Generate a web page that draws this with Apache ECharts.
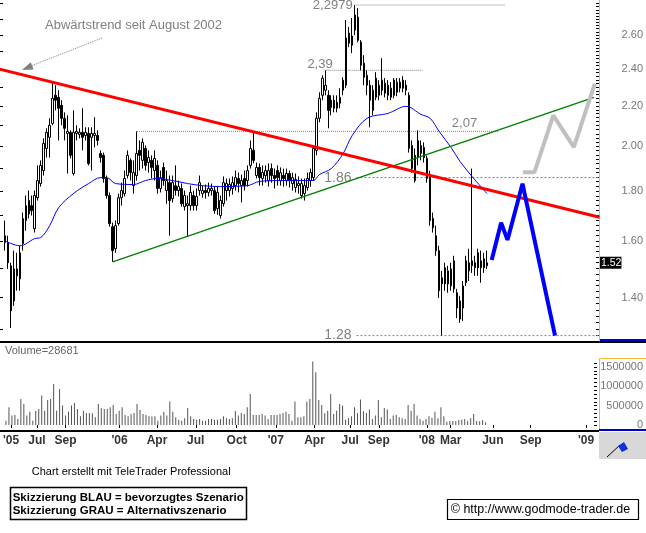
<!DOCTYPE html>
<html><head><meta charset="utf-8">
<script src="https://cdn.jsdelivr.net/npm/echarts@6/dist/echarts.min.js"></script>
<style>html,body{margin:0;padding:0;background:#fff}#c{width:646px;height:533px}</style>
</head><body><div id="c"></div>
<script>
// ---------- data (weekly candles, first week 2005-04-10) ----------
const firstWeek = '2005-04-10';
const open = [1.620,1.594,1.509,1.389,1.498,1.463,1.590,1.679,1.760,1.739,
1.647,1.772,1.832,1.889,1.990,2.043,2.111,2.256,2.245,2.203,
2.137,2.062,2.067,1.876,2.062,2.057,2.067,2.052,2.062,2.043,
2.052,2.052,1.967,1.958,1.854,1.781,1.655,1.571,1.667,1.772,
1.789,1.867,1.935,1.823,1.867,1.981,1.935,1.990,1.925,1.935,
1.889,1.912,1.811,1.903,1.802,1.836,1.768,1.823,1.802,1.811,
1.735,1.739,1.739,1.781,1.739,1.802,1.789,1.802,1.794,1.802,
1.802,1.727,1.699,1.747,1.802,1.802,1.811,1.823,1.854,1.823,
1.854,1.845,1.912,1.981,1.867,1.903,1.854,1.867,1.845,1.898,
1.867,1.889,1.845,1.867,1.845,1.876,1.832,1.815,1.823,1.781,
1.789,1.815,1.845,1.858,1.981,2.137,2.256,2.283,2.256,2.230,
2.188,2.188,2.214,2.283,2.310,2.551,2.594,2.631,2.713,2.557,
2.433,2.310,2.310,2.283,2.245,2.256,2.283,2.267,2.256,2.294,
2.338,2.272,2.294,2.338,2.310,2.256,2.004,1.958,1.948,1.967,
1.995,1.944,1.867,1.687,1.620,1.564,1.467,1.446,1.446,1.498,
1.429,1.416,1.389,1.366,1.450,1.491,1.509,1.502,1.556,1.502,
1.502,1.509];
const close = [1.594,1.520,1.357,1.498,1.474,1.556,1.687,1.739,1.706,1.719,
1.781,1.845,1.912,2.014,2.067,2.102,2.240,2.230,2.188,2.137,
2.087,2.072,1.958,2.067,2.072,2.067,2.043,2.067,1.921,2.062,
2.062,2.028,1.948,1.854,1.781,1.667,1.564,1.659,1.772,1.802,
1.854,1.958,1.880,1.880,1.967,1.958,2.019,1.912,1.948,1.903,
1.944,1.811,1.858,1.845,1.845,1.760,1.836,1.802,1.819,1.747,
1.781,1.747,1.794,1.739,1.777,1.836,1.802,1.794,1.811,1.811,
1.719,1.794,1.760,1.836,1.832,1.828,1.836,1.858,1.832,1.845,
1.823,1.889,1.990,1.935,1.903,1.858,1.880,1.889,1.889,1.867,
1.854,1.858,1.880,1.854,1.876,1.845,1.858,1.850,1.832,1.832,
1.823,1.854,1.880,1.990,2.137,2.240,2.349,2.310,2.177,2.193,
2.230,2.219,2.245,2.338,2.582,2.612,2.539,2.726,2.569,2.422,
2.354,2.365,2.230,2.177,2.349,2.310,2.338,2.321,2.310,2.245,
2.256,2.327,2.327,2.294,2.283,1.990,1.898,1.845,2.028,2.004,
1.948,1.854,1.679,1.651,1.564,1.423,1.446,1.502,1.491,1.439,
1.527,1.366,1.331,1.439,1.527,1.520,1.527,1.520,1.502,1.527,
1.534,1.520];
const high = [1.679,1.620,1.520,1.564,1.556,1.582,1.711,1.781,1.802,1.781,
1.802,1.912,1.935,2.038,2.087,2.137,2.332,2.310,2.283,2.230,
2.167,2.152,2.077,2.177,2.102,2.087,2.188,2.092,2.092,2.092,
2.142,2.077,1.981,1.971,1.867,1.794,1.671,1.679,1.789,1.836,
1.889,1.981,1.944,1.935,2.072,2.028,2.038,2.004,1.981,1.958,
1.981,1.935,1.889,1.925,1.889,1.867,1.867,1.912,1.845,1.832,
1.802,1.781,1.823,1.802,1.811,1.867,1.823,1.828,1.836,1.832,
1.819,1.819,1.781,1.863,1.854,1.854,1.863,1.889,1.880,1.871,
1.889,1.912,2.028,2.067,1.925,1.921,1.912,1.912,1.921,1.921,
1.898,1.912,1.903,1.898,1.898,1.889,1.880,1.876,1.863,1.854,
1.854,1.880,1.898,2.004,2.167,2.272,2.365,2.393,2.283,2.256,
2.256,2.256,2.294,2.354,2.694,2.650,2.707,2.791,2.771,2.569,
2.480,2.393,2.338,2.310,2.382,2.338,2.462,2.349,2.338,2.327,
2.349,2.349,2.349,2.360,2.338,2.272,2.028,1.990,2.077,2.028,
2.019,1.958,1.889,1.711,1.659,1.582,1.491,1.520,1.509,1.520,
1.545,1.429,1.406,1.456,1.545,1.571,1.898,1.545,1.571,1.564,
1.556,1.564];
const low = [1.564,1.498,1.303,1.373,1.423,1.423,1.564,1.639,1.687,1.699,
1.632,1.760,1.819,1.867,1.948,1.948,2.102,2.177,2.028,2.102,
2.028,1.876,1.944,1.867,2.028,2.038,1.981,2.028,1.912,1.889,
1.995,2.004,1.925,1.836,1.768,1.655,1.523,1.556,1.659,1.739,
1.777,1.854,1.845,1.789,1.845,1.889,1.898,1.889,1.880,1.854,
1.845,1.789,1.794,1.823,1.747,1.620,1.752,1.781,1.777,1.735,
1.719,1.616,1.719,1.719,1.719,1.781,1.772,1.768,1.777,1.781,
1.706,1.702,1.687,1.735,1.760,1.777,1.785,1.802,1.794,1.752,
1.802,1.819,1.898,1.921,1.854,1.823,1.823,1.836,1.819,1.836,
1.811,1.823,1.823,1.819,1.823,1.815,1.802,1.794,1.789,1.768,
1.760,1.802,1.819,1.845,1.958,2.117,2.230,2.256,2.087,2.152,
2.167,2.167,2.188,2.256,2.294,2.527,2.492,2.600,2.557,2.393,
2.310,2.256,2.092,2.152,2.230,2.230,2.256,2.245,2.230,2.230,
2.240,2.251,2.272,2.272,2.256,1.971,1.880,1.836,1.912,1.935,
1.925,1.836,1.659,1.632,1.545,1.399,1.280,1.423,1.416,1.423,
1.416,1.334,1.319,1.325,1.439,1.456,1.484,1.474,1.474,1.450,
1.484,1.498];
const volume = [112,458,242,259,155,674,544,242,345,112,
371,415,760,371,648,674,1062,371,933,501,
242,345,501,570,415,225,371,311,311,302,
199,544,432,415,415,458,518,285,371,458,
259,225,285,311,544,389,285,259,225,216,
225,112,242,345,242,605,345,199,138,112,
173,440,225,155,138,155,112,112,155,155,
138,138,155,225,173,155,173,363,242,311,
285,458,803,259,259,259,285,242,155,259,
259,259,285,311,345,285,112,605,199,199,
225,605,674,1641,1364,648,518,300,
371,803,285,371,544,501,138,181,225,458,
311,656,354,311,397,155,242,648,199,440,
397,155,242,259,199,173,155,518,371,544,
242,155,112,155,225,190,345,173,458,225,
86,104,104,104,130,138,155,112,173,285,
104,95,130,69].map(v => v * 1000);
// moving average (week index, price)
const maWeek  = [0,5,10,12,15,18,23,28,32,34,37,43,47,51,56,61,66,72,81,85,92,103,105,109,113,116,121,128,134,139,142,145,149,152,156,161];
const maValue = [1.601,1.582,1.609,1.613,1.659,1.731,1.790,1.832,1.858,1.858,1.832,1.828,1.845,1.854,1.845,1.832,1.823,1.819,1.823,1.841,1.845,1.845,1.871,1.898,1.967,2.052,2.137,2.162,2.198,2.156,2.137,2.072,1.995,1.930,1.863,1.789];
// drawn trend lines and scenario sketches (date, price)
const trendRed   = [['2005-03-29', 2.399], ['2009-01-29', 1.692]];
const trendGreen = [['2005-12-18', 1.523], ['2009-01-16', 2.245]];
const sketchBlue = [['2008-05-22', 1.530], ['2008-06-13', 1.670], ['2008-06-28', 1.604], ['2008-08-02', 1.831], ['2008-10-17', 1.280]];
const sketchGray = [['2008-08-03', 1.882], ['2008-08-30', 1.882], ['2008-10-13', 2.152], ['2008-11-30', 1.996], ['2009-01-18', 2.319]];
const level279 = [['2007-07-09', 2.791], ['2008-06-23', 2.791]];
const level239 = [['2007-04-30', 2.393], ['2007-12-13', 2.393]];
const level207 = [['2006-02-13', 2.072], ['2008-06-06', 2.072]];
const level186 = [['2007-07-11', 1.858], ['2009-01-31', 1.858]];
const level128 = [['2007-07-11', 1.280], ['2009-01-31', 1.280]];
// axis labels
const tickDates  = ['2005-04-22','2005-06-22','2005-08-28','2006-01-02','2006-03-31','2006-06-30','2006-10-04','2007-01-04','2007-04-05','2007-06-28','2007-09-03','2007-12-25','2008-02-19','2008-05-28','2008-08-25','2009-01-02'];
const tickLabels = ["'05",'Jul','Sep',"'06",'Apr','Jul','Oct',"'07",'Apr','Jul','Sep',"'08",'Mar','Jun','Sep',"'09"];
const priceLabels = [1.40,1.60,1.80,2.00,2.20,2.40,2.60];
const volumeLabels = [0,500000,1000000,1500000];

// ---------- helpers ----------
const DAY = 86400000;
const D = s => Date.parse(s + 'T00:00:00Z');
const t0 = D(firstWeek);
const weekTime = i => t0 + i * 7 * DAY;
const L = Math.log;
const xMin = t0 - 11.2 * DAY, xMax = t0 + 1388.8 * DAY;
const yMin = L(1.2638), yMax = L(2.8244);
const FONT = 'Liberation Sans';

const candles = open.map((o, i) => [weekTime(i), L(o), L(close[i]), L(low[i]), L(high[i])]);
const vols = volume.map((v, i) => [weekTime(i), v]);
const ma = maWeek.map((w, i) => [weekTime(w), L(maValue[i])]);
const pts = arr => arr.map(p => [D(p[0]), L(p[1])]);
const labelMap = {};
tickDates.forEach((d, i) => { labelMap[D(d)] = tickLabels[i]; });

const rightTicks = [], leftTicks = [], volTicks = [];
for (let k = 64; k <= 140; k++) rightTicks.push(L(k / 50));
for (let k = 13; k <= 28; k++) leftTicks.push(L(k / 10));
for (let k = 0; k <= 16; k++) volTicks.push(k * 100000);

function level(arr, text, idx, dist, offset, dash, size) {
  const data = pts(arr).map((p, i) => i === idx ? {
    value: p,
    label: { show: true, position: 'left', distance: dist, offset: offset, formatter: text,
             color: '#808080', fontSize: size, fontFamily: FONT }
  } : p);
  return { type: 'line', xAxisIndex: 0, yAxisIndex: 0, data, symbol: 'circle', symbolSize: 0,
           showSymbol: true, silent: true, z: 1,
           lineStyle: { color: '#808080', width: 1, type: dash } };
}
function path(arr, color, width, z) {
  return { type: 'line', xAxisIndex: 0, yAxisIndex: 0, data: pts(arr), symbol: 'none', silent: true, z,
           lineStyle: { color, width } };
}

const lastClose = close[close.length - 1];

const option = {
  animation: false,
  backgroundColor: '#fff',
  grid: [
    { left: 0, top: 0, width: 599, height: 341 },
    { left: 0, top: 343, width: 599, height: 87 }
  ],
  xAxis: [
    { type: 'value', gridIndex: 0, min: xMin, max: xMax, show: false, splitLine: { show: false } },
    { type: 'value', gridIndex: 1, min: xMin, max: xMax, splitLine: { show: false },
      axisLine: { show: false },
      axisTick: { show: true, customValues: tickDates.map(D), length: 3, lineStyle: { color: '#000' } },
      axisLabel: { customValues: tickDates.map(D), formatter: v => labelMap[v] || '', margin: 5,
                   fontFamily: FONT, fontWeight: 'bold', fontSize: 12, color: '#333' } }
  ],
  yAxis: [
    { type: 'value', gridIndex: 0, position: 'right', min: yMin, max: yMax, splitLine: { show: false },
      axisLine: { show: true, lineStyle: { color: '#f5b935', width: 1 } },
      axisTick: { show: true, inside: true, length: 3, customValues: rightTicks, lineStyle: { color: '#000' } },
      axisLabel: { customValues: priceLabels.map(L), formatter: v => Math.exp(v).toFixed(2),
                   align: 'right', margin: 44, fontFamily: FONT, fontSize: 11, color: '#777' } },
    { type: 'value', gridIndex: 0, position: 'left', min: yMin, max: yMax, splitLine: { show: false },
      axisLine: { show: false },
      axisTick: { show: true, inside: true, length: 3, customValues: leftTicks, lineStyle: { color: '#000' } },
      axisLabel: { show: false } },
    { type: 'value', gridIndex: 0, position: 'right', min: yMin, max: yMax, splitLine: { show: false },
      axisLine: { show: false }, axisTick: { show: false },
      axisLabel: { customValues: [L(lastClose)], formatter: v => '{b|' + Math.exp(v).toFixed(2) + '}',
                   margin: 1, align: 'left',
                   rich: { b: { backgroundColor: '#000', color: '#fff', fontSize: 10.5, fontFamily: FONT, padding: [1, 0, 0, 1] } } } },
    { type: 'value', gridIndex: 1, position: 'right', min: -130000, max: 2120000, splitLine: { show: false },
      axisLine: { show: false },
      axisTick: { show: true, inside: true, length: 3, customValues: volTicks, lineStyle: { color: '#000' } },
      axisLabel: { customValues: volumeLabels, formatter: v => String(v), align: 'right', margin: 46,
                   fontFamily: FONT, fontSize: 11, color: '#777' } }
  ],
  series: [
    level(level279, '2,2979', 0, 3, [0, 0], [1, 1], 13),
    level(level239, '2,39', 0, 0, [7, -6], [1, 1], 13),
    level(level207, '2,07', 1, 21, [0, -8], [1, 1], 13),
    level(level186, '1.86', 0, 5, [0, 1], [2, 2], 14),
    level(level128, '1.28', 0, 5, [0, 0], [2, 2], 14),
    { type: 'candlestick', xAxisIndex: 0, yAxisIndex: 0, data: candles, barWidth: 2, z: 2, silent: true,
      itemStyle: { color: '#fff', color0: '#000', borderColor: '#000', borderColor0: '#000', borderWidth: 1 } },
    { type: 'line', xAxisIndex: 0, yAxisIndex: 0, data: ma, symbol: 'none', smooth: 0.35, silent: true, z: 3,
      lineStyle: { color: '#0000ff', width: 1 } },
    path(trendGreen, '#008000', 1.5, 3),
    path(trendRed, '#ff0000', 3, 4),
    path(sketchGray, '#c0c0c0', 4, 5),
    path(sketchBlue, '#0000ff', 4, 5),
    { type: 'bar', xAxisIndex: 1, yAxisIndex: 3, data: vols, barWidth: 1, silent: true,
      itemStyle: { color: '#555' } }
  ],
  graphic: [
    { type: 'text', x: 45, y: 25, style: { text: 'Abwärtstrend seit August 2002', font: '13px "Liberation Sans"', fill: '#808080', verticalAlign: 'middle' } },
    { type: 'line', shape: { x1: 102, y1: 38, x2: 31, y2: 66 }, style: { stroke: '#808080', lineWidth: 1, lineDash: [1, 1] } },
    { type: 'polygon', shape: { points: [[22, 70], [33.7, 69.6], [30.7, 62.2]] }, style: { fill: '#808080' } },
    { type: 'rect', shape: { x: 599, y: 339, width: 47, height: 2 }, style: { fill: '#0000cc' } },
    { type: 'rect', shape: { x: 0, y: 341, width: 646, height: 2 }, style: { fill: '#000' } },
    { type: 'text', x: 5, y: 351, style: { text: 'Volume=28681', font: '11px "Liberation Sans"', fill: '#666', verticalAlign: 'middle' } },
    { type: 'polyline', shape: { points: [[646, 358.5], [599.5, 358.5], [599.5, 430]] }, style: { stroke: '#f5b935', lineWidth: 1, fill: null } },
    { type: 'rect', shape: { x: 0, y: 430, width: 599, height: 2 }, style: { fill: '#000' } },
    { type: 'rect', shape: { x: 599, y: 429, width: 47, height: 2 }, style: { fill: '#0000cc' } },
    { type: 'rect', shape: { x: 599, y: 432, width: 47, height: 27 }, style: { fill: '#d8d8d8' } },
    { type: 'line', shape: { x1: 607, y1: 457, x2: 620, y2: 445 }, style: { stroke: '#000', lineWidth: 1 } },
    { type: 'polygon', shape: { points: [[618, 446], [624, 442], [628, 449], [622, 452]] }, style: { fill: '#1030e0' } },
    { type: 'text', x: 31.7, y: 472, style: { text: 'Chart erstellt mit TeleTrader Professional', font: '11px "Liberation Sans"', fill: '#000', verticalAlign: 'middle' } },
    { type: 'rect', shape: { x: 10.5, y: 487.5, width: 236, height: 32 }, style: { fill: null, stroke: '#000', lineWidth: 1.5 } },
    { type: 'text', x: 12.7, y: 498, style: { text: 'Skizzierung BLAU = bevorzugtes Szenario', font: 'bold 11.5px "Liberation Sans"', fill: '#000', verticalAlign: 'middle' } },
    { type: 'text', x: 12.7, y: 510.5, style: { text: 'Skizzierung GRAU = Alternativszenario', font: 'bold 11.5px "Liberation Sans"', fill: '#000', verticalAlign: 'middle' } },
    { type: 'rect', shape: { x: 447.5, y: 499.5, width: 191, height: 20 }, style: { fill: null, stroke: '#000', lineWidth: 1.2 } },
    { type: 'text', x: 450.7, y: 509.5, style: { text: '© http://www.godmode-trader.de', font: '12.5px "Liberation Sans"', fill: '#000', verticalAlign: 'middle' } }
  ]
};
const chart = echarts.init(document.getElementById('c'), null, { width: 646, height: 533 });
chart.setOption(option);
</script>
</body></html>
